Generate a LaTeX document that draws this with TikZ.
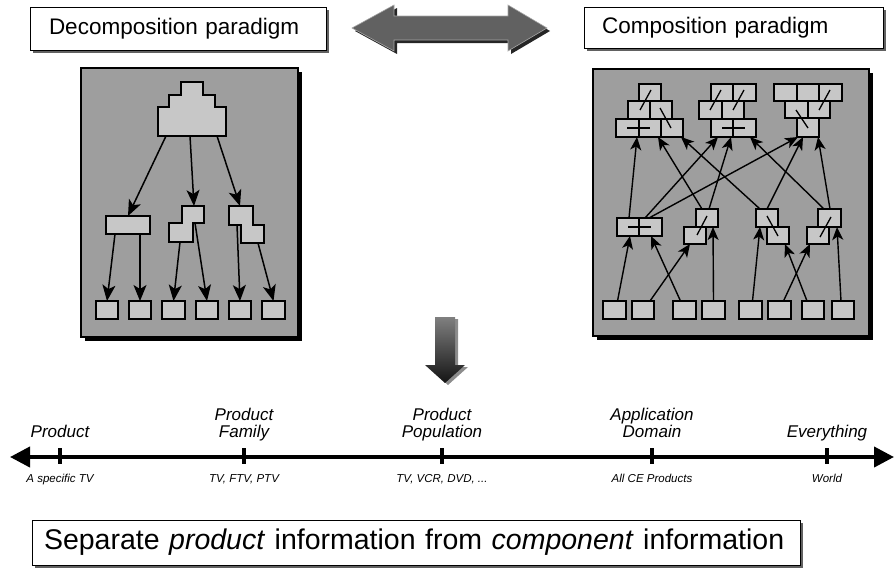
\documentclass[tikz,border=0pt]{standalone}
\usepackage{fontspec}
\setmainfont{Liberation Sans}
\usetikzlibrary{arrows.meta,calc,shadows}

\definecolor{panelgray}{gray}{0.62}
\definecolor{brickgray}{gray}{0.78}
\definecolor{shadegray}{gray}{0.38}
\definecolor{arrowgray}{gray}{0.38}

\tikzset{
  panel/.style={draw, line width=1.1pt, fill=panelgray, inner sep=0pt, outer sep=0pt,
    anchor=north west, drop shadow={shadow xshift=4pt, shadow yshift=-4pt, fill=black, opacity=1}},
  brick/.style={draw, line width=1.4pt, fill=brickgray, inner sep=0pt, outer sep=0pt, anchor=north west},
  blk/.style={draw, line width=1.4pt, fill=brickgray},
  larr/.style={-{Stealth[length=16pt,width=13pt,inset=4pt]}, line width=1.5pt},
  rarr/.style={-{Stealth[length=13pt,width=11pt,inset=3.5pt]}, line width=1.4pt},
  cmark/.style={line width=1.3pt},
  titlebox/.style={draw, line width=1pt, fill=white, inner ysep=0pt, outer sep=0pt,
    anchor=north west, align=left,
    drop shadow={shadow xshift=3pt, shadow yshift=-3pt, fill=shadegray, opacity=1}},
  tick/.style={fill=black, inner sep=0pt, outer sep=0pt, minimum width=4.5pt, minimum height=16pt},
  lvl/.style={inner sep=0pt, anchor=south, align=center, text depth=4pt,
    font=\fontsize{17}{17}\selectfont\itshape},
  example/.style={inner sep=0pt, anchor=base, font=\fontsize{11.5}{13}\selectfont\itshape},
}

% brick with top-left corner (#2,#3) and bottom-right corner (#4,#5)
\newcommand\brk[5]{\node[brick, minimum width={#4pt-#2pt}, minimum height={#5pt-#3pt}] (#1) at (#2,#3) {};}

\begin{document}
\begin{tikzpicture}[x=1pt, y=-1pt]
\useasboundingbox (0,0) rectangle (894,570);

% ---------- headings ----------
\node[titlebox, minimum height=43pt, text width=258pt, inner xsep=19pt,
      font=\fontsize{22.5}{26}\selectfont] (dec) at (30,7) {Decomposition paradigm};
\node[titlebox, minimum height=41pt, text width=263pt, inner xsep=18pt,
      font=\fontsize{22.5}{26}\selectfont] (com) at (584,7) {Composition paradigm};

% double arrow between the paradigms
\fill[black!85, shift={(3,3)}] (352,28) -- (394,5) -- (394,16) -- (508,16) -- (508,5) -- (547,28)
  -- (508,51) -- (508,40) -- (394,40) -- (394,51) -- cycle;
\fill[arrowgray, draw=black!35, line width=0.6pt] (352,28) -- (394,5) -- (394,16) -- (508,16) -- (508,5) -- (547,28)
  -- (508,51) -- (508,40) -- (394,40) -- (394,51) -- cycle;

% ---------- decomposition tree ----------
\node[panel, minimum width=217pt, minimum height=269pt] (lpanel) at (81,68) {};

\draw[blk] (181,82) -- (203,82) -- (203,95) -- (215,95) -- (215,107) -- (226,107) -- (226,136)
  -- (158,136) -- (158,107) -- (169,107) -- (169,95) -- (181,95) -- cycle;
\coordinate (ta) at (166,136);
\coordinate (tb) at (190,136);
\coordinate (tc) at (217,136);

\brk{ma}{106}{216}{150}{234}
\draw[blk] (182,206) -- (204,206) -- (204,223) -- (193,223) -- (193,242) -- (169,242) -- (169,223) -- (182,223) -- cycle;
\coordinate (mbtop) at (194,206);
\coordinate (mbl) at (180,242);
\coordinate (mbr) at (195,223);
\draw[blk] (229,206) -- (253,206) -- (253,225) -- (264,225) -- (264,243) -- (241,243) -- (241,225) -- (229,225) -- cycle;
\coordinate (mctop) at (240,206);
\coordinate (mcl) at (237,225);
\coordinate (mcr) at (258,243);

\brk{la}{96}{301}{118}{319}
\brk{lb}{129}{301}{151}{319}
\brk{lc}{162}{301}{185}{319}
\brk{ld}{196}{301}{218}{319}
\brk{le}{229}{301}{251}{319}
\brk{lf}{262}{301}{285}{319}

\draw[larr] (ta) -- (ma.north);
\draw[larr] (tb) -- (mbtop);
\draw[larr] (tc) -- (mctop);
\draw[larr] ($(ma.south west)+(9,0)$) -- (la.north);
\draw[larr] ($(ma.south east)+(-10,0)$) -- (lb.north);
\draw[larr] (mbl) -- (lc.north);
\draw[larr] (mbr) -- (ld.north);
\draw[larr] (mcl) -- (le.north);
\draw[larr] (mcr) -- (lf.north);

% ---------- composition graph ----------
\node[panel, minimum width=276pt, minimum height=267pt] (rpanel) at (593,69) {};

% composite A
\brk{A1}{639}{84}{661}{101}
\brk{A2a}{628}{101}{650}{119}
\brk{A2b}{650}{101}{672}{119}
\brk{A3a}{616}{119}{639}{137}
\brk{A3b}{639}{119}{661}{137}
\brk{A3c}{661}{119}{683}{137}
\draw[cmark] (651,90) -- (640,110);
\draw[cmark] (660,108) -- (671,128);
\draw[cmark] (627,128) -- (650,128);

% composite B
\brk{B1a}{711}{84}{733}{101}
\brk{B1b}{733}{84}{756}{101}
\brk{B2a}{699}{101}{722}{119}
\brk{B2b}{722}{101}{744}{119}
\brk{B3a}{711}{119}{733}{137}
\brk{B3b}{733}{119}{756}{137}
\draw[cmark] (721,90) -- (710,110);
\draw[cmark] (744,90) -- (733,110);
\draw[cmark] (722,128) -- (745,128);

% composite C
\brk{C1a}{774}{84}{797}{101}
\brk{C1b}{797}{84}{819}{101}
\brk{C1c}{819}{84}{842}{101}
\brk{C2a}{785}{101}{808}{118}
\brk{C2b}{808}{101}{830}{118}
\brk{C3}{797}{118}{819}{137}
\draw[cmark] (830,90) -- (819,110);
\draw[cmark] (796,110) -- (808,128);

% intermediate composites
\brk{D1}{617}{218}{639}{236}
\brk{D2}{639}{218}{662}{236}
\draw[cmark] (628,227) -- (651,227);
\brk{E1}{696}{209}{718}{227}
\brk{E2}{684}{227}{706}{244}
\draw[cmark] (707,216) -- (697,235);
\brk{F1}{756}{209}{778}{227}
\brk{F2}{767}{227}{789}{244}
\draw[cmark] (767,216) -- (778,236);
\brk{G1}{818}{209}{841}{227}
\brk{G2}{807}{227}{829}{244}
\draw[cmark] (831,217) -- (820,237);

% basic components
\brk{R1}{603}{301}{626}{319}
\brk{R2}{632}{301}{654}{319}
\brk{R3}{673}{301}{696}{319}
\brk{R4}{702}{301}{725}{319}
\brk{R5}{739}{301}{762}{319}
\brk{R6}{768}{301}{791}{319}
\brk{R7}{802}{301}{824}{319}
\brk{R8}{832}{301}{854}{319}

\draw[rarr] ($(R1.north)+(3,0)$) -- ($(D1.south west)+(13,0)$);
\draw[rarr] ($(R2.north)+(7,0)$) -- ($(E2.south west)+(6,0)$);
\draw[rarr] ($(R3.north)+(-4,0)$) -- ($(D2.south west)+(12,0)$);
\draw[rarr] (R4.north) -- ($(E1.south west)+(17,0)$);
\draw[rarr] ($(R5.north)+(2,0)$) -- ($(F1.south west)+(4,0)$);
\draw[rarr] ($(R6.north)+(4,0)$) -- ($(G2.south west)+(3,0)$);
\draw[rarr] ($(R7.north)+(-6,0)$) -- ($(F2.south west)+(18,0)$);
\draw[rarr] ($(R8.north)+(-2,0)$) -- ($(G1.south west)+(19,0)$);

\draw[rarr] ($(D1.north west)+(12,0)$) -- ($(A3a.south west)+(21,0)$);
\draw[rarr] ($(E1.north west)+(6,0)$) -- ($(A3b.south west)+(19,0)$);
\draw[rarr] ($(F1.north west)+(4,0)$) -- ($(A3c.south west)+(20,0)$);
\draw[rarr] ($(D2.north west)+(6,0)$) -- ($(B3a.south west)+(7,0)$);
\draw[rarr] ($(E1.north west)+(13,0)$) -- ($(B3a.south west)+(20,0)$);
\draw[rarr] ($(G1.north west)+(6,0)$) -- ($(B3b.south west)+(17,0)$);
\draw[rarr] ($(D2.north west)+(10,0)$) -- ($(C3.south west)+(1,0)$);
\draw[rarr] ($(F1.north west)+(11,0)$) -- ($(C3.south west)+(6,0)$);
\draw[rarr] ($(G1.north west)+(12,0)$) -- ($(C3.south west)+(21,0)$);

% ---------- downward arrow ----------
\fill[black!45, shift={(3,2)}] (435,317) -- (455,317) -- (455,365) -- (465,365) -- (445,383) -- (425,365) -- (435,365) -- cycle;
\shade[top color=black!50, bottom color=black!92] (435,317) -- (455,317) -- (455,365) -- (465,365)
  -- (445,383) -- (425,365) -- (435,365) -- cycle;

% ---------- scope timeline ----------
\coordinate (tlL) at (10,457);
\coordinate (tlR) at (894,457);
\draw[line width=4pt, {Triangle[length=20pt,width=20pt]}-{Triangle[length=20pt,width=20pt]}] (tlL) -- (tlR);

\node[tick] (k1) at (60,456) {};
\node[tick] (k2) at (244,456) {};
\node[tick] (k3) at (442,456) {};
\node[tick] (k4) at (652,456) {};
\node[tick] (k5) at (827,456) {};

\node[lvl] (l1) at ($(k1)+(0,-14)$) {Product};
\node[lvl] (l2) at ($(k2)+(0,-14)$) {Product\\Family};
\node[lvl] (l3) at ($(k3)+(0,-14)$) {Product\\Population};
\node[lvl] (l4) at ($(k4)+(0,-14)$) {Application\\Domain};
\node[lvl] (l5) at ($(k5)+(0,-14)$) {Everything};

\node[example] (e1) at ($(k1)+(0,26)$) {A specific TV};
\node[example] (e2) at ($(k2)+(0,26)$) {TV, FTV, PTV};
\node[example] (e3) at ($(k3)+(0,26)$) {TV, VCR, DVD, ...};
\node[example] (e4) at ($(k4)+(0,26)$) {All CE Products};
\node[example] (e5) at ($(k5)+(0,26)$) {World};

% ---------- message ----------
\node[titlebox, minimum height=45pt, text width=744pt, inner xsep=12pt,
      font=\fontsize{28.5}{32}\selectfont] (msg) at (32,520)
  {Separate \textit{product} information from \textit{component} information};
\end{tikzpicture}
\end{document}
